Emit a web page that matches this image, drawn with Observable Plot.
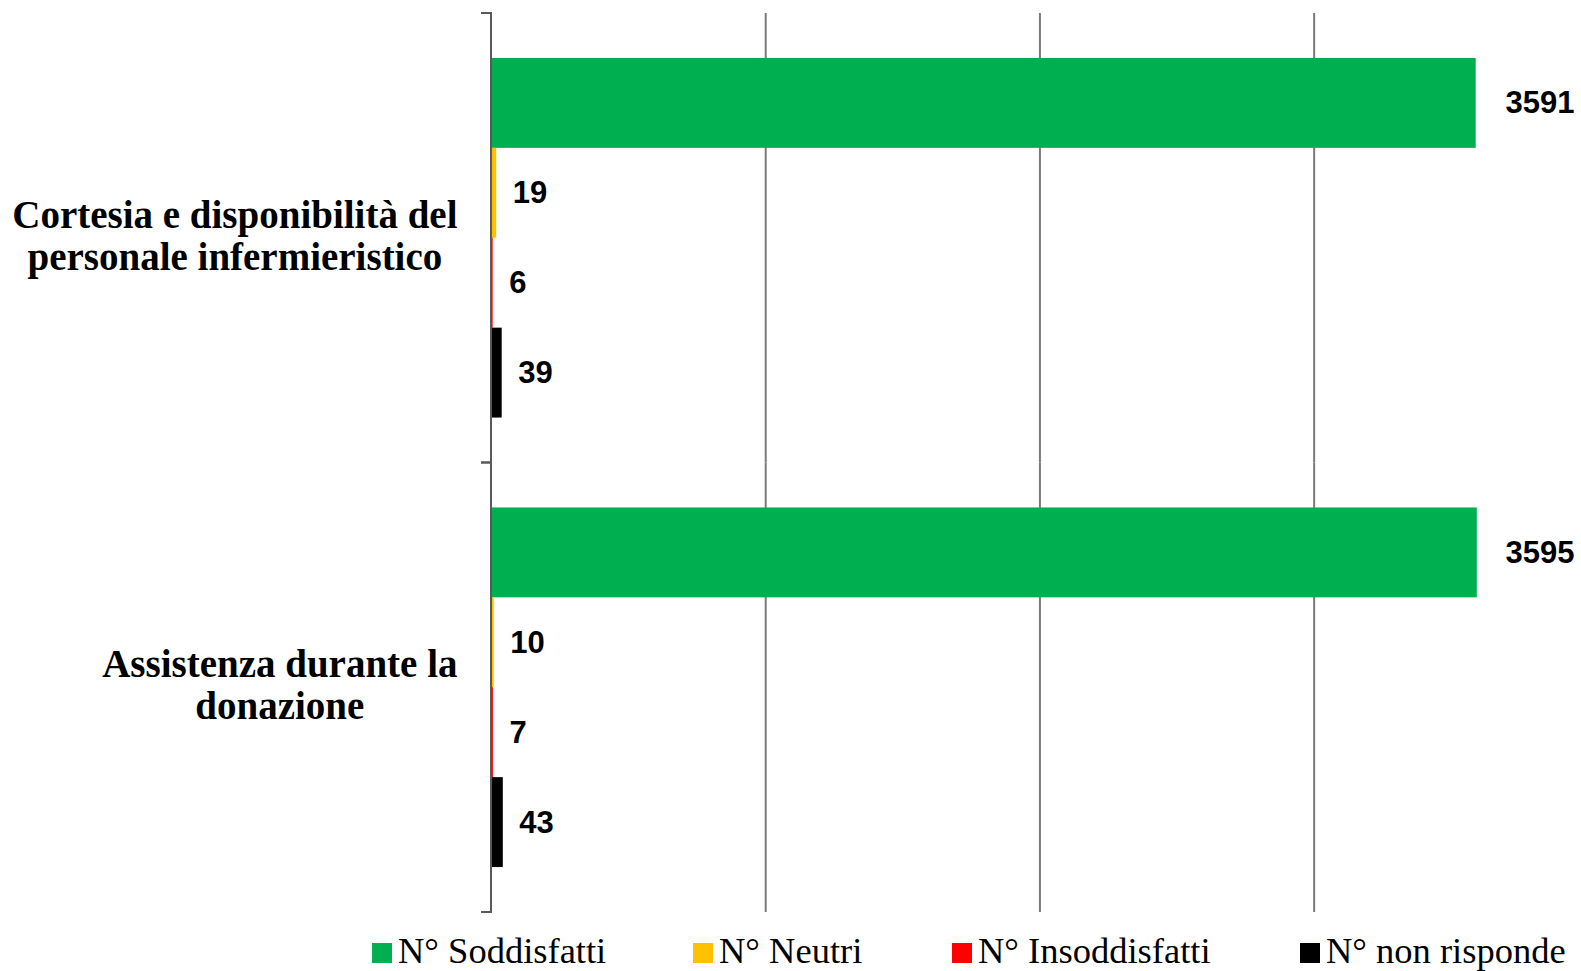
<!DOCTYPE html>
<html><head><meta charset="utf-8">
<script src="https://cdn.jsdelivr.net/npm/d3@7"></script>
<script src="https://cdn.jsdelivr.net/npm/@observablehq/plot@0.6"></script>
<style>
body{margin:0;background:#fff;}
#chart svg{display:block;}
#legend{position:relative;height:49px;font-family:"Liberation Serif",serif;font-size:36.5px;line-height:1;color:#000;white-space:nowrap;}
.item{position:absolute;top:11px;display:flex;align-items:baseline;}
.sw{width:20px;height:20px;margin-right:6px;display:inline-block;}
</style></head><body><div id="chart"></div><div id="legend"></div>
<script>
const categories = ["Cortesia e disponibilità del personale infermieristico", "Assistenza durante la donazione"];
const categoryLines = [["Cortesia e disponibilità del", "personale infermieristico"], ["Assistenza durante la", "donazione"]];
const series = ["N° Soddisfatti", "N° Neutri", "N° Insoddisfatti", "N° non risponde"];
const seriesColors = ["#00B050", "#FFC000", "#FF0000", "#000000"];
const valuesCortesia = [3591, 19, 6, 39];
const valuesAssistenza = [3595, 10, 7, 43];
const gridTicks = [1000, 2000, 3000];
const xMax = 3975;
const legendLefts = [372, 693, 952, 1300];

const rows = [];
[valuesCortesia, valuesAssistenza].forEach((vals, ci) => {
  vals.forEach((v, si) => rows.push({category: categories[ci], series: series[si], value: v}));
});

const W = 1581, H = 922;
const mL = 491, mR = 0, mT = 13, mB = 10;
const catSize = 39;
const ctx = document.createElement("canvas").getContext("2d");
ctx.font = `bold ${catSize}px 'Liberation Serif'`;

const bigRows = rows.filter(d => d.value / xMax > 0.85);
const smallRows = rows.filter(d => d.value / xMax <= 0.85);

const axisMark = (index, scales, values, dims) => {
  const x0 = scales.x(0);
  const top = dims.marginTop, bottom = dims.height - dims.marginBottom;
  const g = d3.create("svg:g").attr("stroke", "#595959").attr("stroke-width", 2).attr("fill", "none");
  g.append("line").attr("x1", x0).attr("x2", x0).attr("y1", top - 1).attr("y2", bottom + 1);
  g.append("line").attr("x1", x0 - 10).attr("x2", x0).attr("y1", top).attr("y2", top);
  g.append("line").attr("x1", x0 - 10).attr("x2", x0).attr("y1", bottom).attr("y2", bottom);
  return g.node();
};

const labelMarks = categories.map((c, i) => {
  const lines = categoryLines[i];
  const maxW = d3.max(lines, l => ctx.measureText(l).width);
  return Plot.text([c], {
    fy: d => d,
    text: () => lines.join("\n"),
    frameAnchor: "left",
    textAnchor: "middle",
    dx: -(34 + maxW / 2),
    dy: -3,
    lineHeight: 1.08,
    fontSize: catSize,
    fontWeight: "bold",
    fontFamily: "Liberation Serif",
    fill: "#000"
  });
});

const chart = Plot.plot({
  width: W, height: H,
  marginLeft: mL, marginRight: mR, marginTop: mT, marginBottom: mB,
  x: {domain: [0, xMax], axis: null},
  y: {domain: series, paddingInner: 0, paddingOuter: 0.5, round: false, axis: null},
  fy: {domain: categories, padding: 0, round: false, axis: null},
  color: {domain: series, range: seriesColors},
  style: {background: "#fff", overflow: "visible"},
  marks: [
    Plot.ruleX(gridTicks, {stroke: "#7a7a7a", strokeWidth: 2}),
    Plot.barX(rows, {x: "value", y: "series", fy: "category", fill: "series", insetTop: 0, insetBottom: 0}),
    axisMark,
    Plot.text(smallRows, {x: "value", y: "series", fy: "category", text: d => String(d.value), textAnchor: "start", dx: 16, fontSize: 31, fontWeight: "bold", fontFamily: "Liberation Sans", fill: "#000"}),
    Plot.text(bigRows, {y: "series", fy: "category", text: d => String(d.value), frameAnchor: "right", textAnchor: "end", dx: -7, fontSize: 31, fontWeight: "bold", fontFamily: "Liberation Sans", fill: "#000"}),
    ...labelMarks
  ]
});
document.getElementById("chart").appendChild(chart);

const legend = document.getElementById("legend");
series.forEach((s, i) => {
  const item = document.createElement("div");
  item.className = "item";
  item.style.left = legendLefts[i] + "px";
  const sw = document.createElement("span");
  sw.className = "sw";
  sw.style.background = seriesColors[i];
  const t = document.createElement("span");
  t.textContent = s;
  item.appendChild(sw); item.appendChild(t);
  legend.appendChild(item);
});
</script></body></html>
